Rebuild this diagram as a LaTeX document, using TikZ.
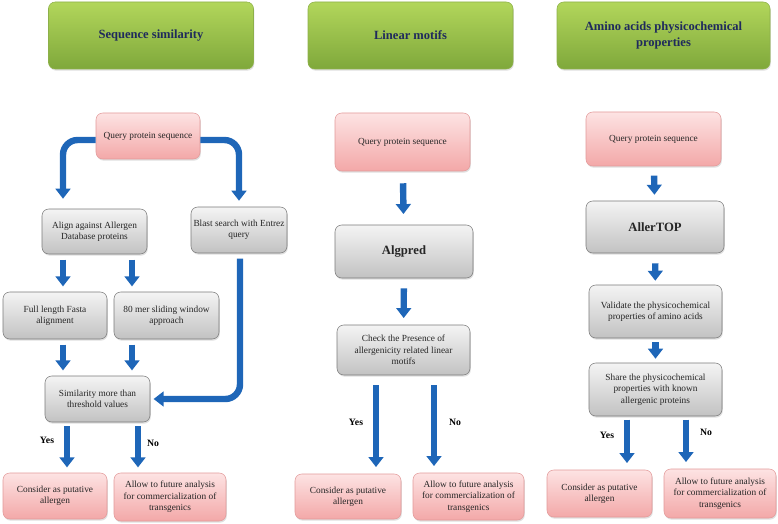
\documentclass[tikz,border=0pt]{standalone}
\usepackage{fontspec}
\setmainfont{Liberation Serif}
\usetikzlibrary{arrows.meta,calc,shadows}
\definecolor{headtop}{HTML}{B2D65B}
\definecolor{headbot}{HTML}{7FA83B}
\definecolor{headline}{HTML}{8DB04A}
\definecolor{headtext}{HTML}{1F2A5C}
\definecolor{pinktop}{HTML}{FDE3E3}
\definecolor{pinkbot}{HTML}{F3A8A8}
\definecolor{pinkline}{HTML}{E29A9A}
\definecolor{graytop}{HTML}{F4F4F4}
\definecolor{graybot}{HTML}{C2C2C2}
\definecolor{grayline}{HTML}{7A7A7A}
\definecolor{flowblue}{HTML}{1E66B8}
\begin{document}
\begin{tikzpicture}[x=0.75pt,y=-0.75pt,
  wh/.style 2 args={minimum width=#1*0.75pt, minimum height=#2*0.75pt},
  basebox/.style={rounded corners=5pt, inner sep=0pt, align=center,
    drop shadow={shadow xshift=0.6pt, shadow yshift=-1.2pt, opacity=0.25}},
  headbox/.style={basebox, draw=headline, top color=headtop, bottom color=headbot,
    text=headtext, font=\fontsize{9.4}{11.3}\selectfont\bfseries},
  pinkbox/.style={basebox, draw=pinkline, top color=pinktop, bottom color=pinkbot,
    text=black!85, font=\fontsize{7}{8.5}\selectfont},
  graybox/.style={basebox, draw=grayline, top color=graytop, bottom color=graybot,
    text=black!85, font=\fontsize{7}{8.5}\selectfont},
  toolbox/.style={graybox, font=\fontsize{9.5}{11}\selectfont\bfseries},
  flow/.style={draw=flowblue, line width=4.8pt, -{Triangle[width=11pt,length=7.5pt]},
    shorten <=4pt, shorten >=4pt},
  answer/.style={font=\fontsize{7.3}{8.5}\selectfont\bfseries, text=black}]
  \useasboundingbox (0,0) rectangle (778,524);

  \node[headbox, wh={205}{67}] (h1) at (151,35.5){Sequence similarity};
  \node[headbox, wh={205}{67}] (h2) at (410.5,35.5){Linear motifs};
  \node[headbox, wh={213}{67}] (h3) at (663.5,35.5){Amino acids physicochemical\\properties};

  \node[pinkbox, wh={104}{46}] (q1) at (148,136){Query protein sequence};
  \node[graybox, wh={105}{45}] (a1) at (94.5,231.5){Align against Allergen\\Database proteins};
  \node[graybox, wh={96}{46}] (b1) at (239,230){Blast search with Entrez\\query};
  \node[graybox, wh={104}{47}] (f1) at (55,315.5){Full length Fasta\\alignment};
  \node[graybox, wh={105}{47}] (m1) at (166.5,315.5){80 mer sliding window\\approach};
  \node[graybox, wh={105}{46}] (s1) at (97.5,399){Similarity more than\\threshold values};
  \node[pinkbox, wh={104}{46}] (c1) at (55,496){Consider as putative\\allergen};
  \node[pinkbox, wh={112}{48}] (l1) at (170,497){Allow to future analysis\\for commercialization of\\transgenics};

  \coordinate (ql) at ($(q1.west)+(0,4)$);
  \coordinate (qr) at ($(q1.east)+(0,4)$);
  \coordinate (al) at ($(a1.south)+(-31.5,0)$);
  \coordinate (ar) at ($(a1.south)+(37.5,0)$);
  \coordinate (fl) at ($(f1.south)+(8,0)$);
  \coordinate (mr) at ($(m1.south)+(-34.5,0)$);
  \coordinate (bl) at ($(b1.south)+(1,0)$);
  \coordinate (sy) at ($(s1.south)+(-30.5,0)$);
  \coordinate (sn) at ($(s1.south)+(40.5,0)$);
  \draw[flow, rounded corners=11pt, shorten <=0pt, shorten >=7.5pt] (ql) -| (al |- a1.north);
  \draw[flow, rounded corners=11pt, shorten <=0pt, shorten >=4.5pt] (qr) -| (b1.north);
  \draw[flow] (al) -- (al |- f1.north);
  \draw[flow] (ar) -- (ar |- m1.north);
  \draw[flow] (fl) -- (fl |- s1.north);
  \draw[flow] (mr) -- (mr |- s1.north);
  \draw[flow, rounded corners=11pt, shorten >=2.5pt] (bl) |- (s1.east);
  \draw[flow, shorten <=3pt] (sy) -- (sy |- c1.north);
  \draw[flow, shorten <=3pt] (sn) -- (sn |- l1.north);
  \node[answer] (y1) at (47,440){Yes};
  \node[answer] (n1) at (153,443){No};

  \node[pinkbox, wh={135}{58}] (q2) at (402.5,142){Query protein sequence};
  \node[toolbox, wh={138}{53}] (g2) at (404,251.5){Algpred};
  \node[graybox, wh={133}{50}] (k2) at (403.5,350){Check the Presence of\\allergenicity related linear\\motifs};
  \node[pinkbox, wh={106}{45}] (c2) at (348,496.5){Consider as putative\\allergen};
  \node[pinkbox, wh={111}{47}] (l2) at (468.5,496.5){Allow to future analysis\\for commercialization of\\transgenics};

  \coordinate (ky) at ($(k2.south)+(-27.5,0)$);
  \coordinate (kn) at ($(k2.south)+(30.5,0)$);
  \draw[flow, shorten <=9pt, shorten >=8pt] (q2) -- (g2);
  \draw[flow, shorten <=7.5pt, shorten >=5pt] (g2) -- (k2);
  \draw[flow, shorten <=7.5pt, shorten >=5pt] (ky) -- (ky |- c2.north);
  \draw[flow, shorten <=7.5pt, shorten >=5pt] (kn) -- (kn |- l2.north);
  \node[answer] (y2) at (356,422){Yes};
  \node[answer] (n2) at (455,422){No};

  \node[pinkbox, wh={135}{54}] (q3) at (653.5,139){Query protein sequence};
  \node[toolbox, wh={138}{52}] (t3) at (655,227){AllerTOP};
  \node[graybox, wh={133}{53}] (v3) at (655.5,311.5){Validate the physicochemical\\properties of amino acids};
  \node[graybox, wh={133}{53}] (p3) at (655.5,389.5){Share the physicochemical\\properties with known\\allergenic proteins};
  \node[pinkbox, wh={105}{47}] (c3) at (599.5,493.5){Consider as putative\\allergen};
  \node[pinkbox, wh={112}{49}] (l3) at (720,493.5){Allow to future analysis\\for commercialization of\\transgenics};

  \coordinate (py) at ($(p3.south)+(-28.5,0)$);
  \coordinate (pn) at ($(p3.south)+(30.5,0)$);
  \draw[flow, shorten <=7pt, shorten >=4.5pt] (q3) -- (t3);
  \draw[flow, shorten <=7.5pt, shorten >=3pt] (t3) -- (v3);
  \draw[flow, shorten <=3pt, shorten >=3pt] (v3) -- (p3);
  \draw[flow, shorten <=2.5pt, shorten >=5pt] (py) -- (py |- c3.north);
  \draw[flow, shorten <=2.5pt, shorten >=5pt] (pn) -- (pn |- l3.north);
  \node[answer] (y3) at (607,435){Yes};
  \node[answer] (n3) at (706,432){No};
\end{tikzpicture}
\end{document}
